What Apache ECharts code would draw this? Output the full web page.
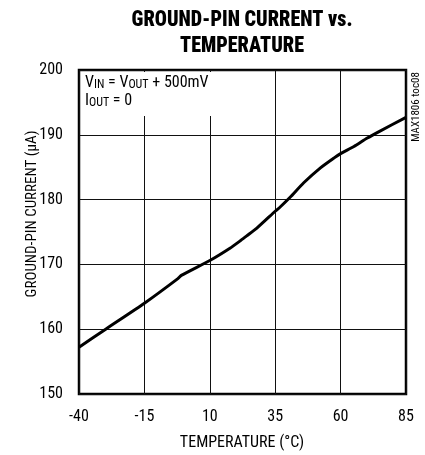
<!DOCTYPE html>
<html>
<head>
<meta charset="utf-8">
<script src="https://cdn.jsdelivr.net/npm/echarts@6/dist/echarts.min.js"></script>
<style>
html,body{margin:0;padding:0;background:#fff;}
#chart{width:425px;height:455px;}
</style>
</head>
<body>
<div id="chart"></div>
<script>
// Data
var temperatureC = [-40, -29.8, -15, -2.2, -0.9, 10, 17.7, 21.5, 24.1, 28, 35, 37.0, 40.8, 45.9, 52.3, 57.4, 60, 65.1, 70.2, 74.7, 85];
var groundCurrentUA = [157.2, 160.0, 164.0, 167.8, 168.3, 170.6, 172.5, 173.6, 174.4, 175.6, 178.2, 178.9, 180.4, 182.6, 184.9, 186.4, 187.1, 188.2, 189.5, 190.5, 192.7];
var xTicks = [-40, -15, 10, 35, 60, 85];
var yTicks = [150, 160, 170, 180, 190, 200];

var X_OFFSET = -xTicks[0]; // shift so axis min is a multiple of interval
var xStep = xTicks[1] - xTicks[0];
var FONT = '"Roboto Condensed", "DejaVu Sans Condensed", sans-serif';
var TITLE_FONT = '900 22px ' + FONT;

function fitScale(text, font, targetWidth) {
  var ctx = document.createElement('canvas').getContext('2d');
  ctx.font = font;
  var w = ctx.measureText(text).width;
  return w > 0 ? targetWidth / w : 1;
}
var title1 = 'GROUND-PIN CURRENT vs.';
var title2 = 'TEMPERATURE';
var tScale = fitScale(title1, TITLE_FONT, 221);

var seriesData = temperatureC.map(function (t, i) { return [t + X_OFFSET, groundCurrentUA[i]]; });

var chart = echarts.init(document.getElementById('chart'));
chart.setOption({
  animation: false,
  backgroundColor: '#fff',
  grid: {
    left: 79, right: 19, top: 70, bottom: 61,
    show: true, borderColor: '#000', borderWidth: 2.5, backgroundColor: 'transparent',
    outerBoundsMode: 'none'
  },
  xAxis: {
    type: 'value',
    min: xTicks[0] + X_OFFSET,
    max: xTicks[xTicks.length - 1] + X_OFFSET,
    interval: xStep,
    axisLine: { show: false },
    axisTick: { show: false },
    splitLine: { show: true, lineStyle: { color: '#111', width: 1 } },
    axisLabel: {
      color: '#000', fontSize: 16, fontFamily: FONT, margin: 15,
      formatter: function (v) { return String(v - X_OFFSET); }
    }
  },
  yAxis: {
    type: 'value',
    min: yTicks[0], max: yTicks[yTicks.length - 1], interval: yTicks[1] - yTicks[0],
    axisLine: { show: false },
    axisTick: { show: false },
    splitLine: { show: true, lineStyle: { color: '#111', width: 1 } },
    axisLabel: { color: '#000', fontSize: 16, fontFamily: FONT, margin: 16 }
  },
  series: [{
    type: 'line',
    data: seriesData,
    showSymbol: false,
    smooth: 0.2,
    lineStyle: { color: '#000', width: 3 },
    z: 5
  }],
  graphic: [
    { type: 'rect', shape: { x: 81, y: 72, width: 160, height: 44 }, style: { fill: '#fff' }, z: 3, silent: true },
    { type: 'text', x: 242, y: 20, scaleX: tScale, z: 10,
      style: { text: title1, font: TITLE_FONT, fill: '#000', textAlign: 'center', textVerticalAlign: 'middle' } },
    { type: 'text', x: 242, y: 46, scaleX: tScale, z: 10,
      style: { text: title2, font: TITLE_FONT, fill: '#000', textAlign: 'center', textVerticalAlign: 'middle' } },
    { type: 'text', x: 85, y: 73, z: 10,
      style: {
        text: '{m|V}{s|IN}{m| = V}{s|OUT}{m| + 500mV}\n{m|I}{s|OUT}{m| = 0}',
        fill: '#000', textAlign: 'left', textVerticalAlign: 'top',
        rich: {
          m: { fontSize: 16, fontFamily: FONT, lineHeight: 18, verticalAlign: 'bottom', fill: '#000' },
          s: { fontSize: 12, fontFamily: FONT, lineHeight: 13, verticalAlign: 'bottom', fill: '#000' }
        }
      } },
    { type: 'text', x: 416, y: 107, rotation: Math.PI / 2, z: 10,
      style: { text: 'MAX1806 toc08', font: '11px ' + FONT, fill: '#000', textAlign: 'center', textVerticalAlign: 'middle' } },
    { type: 'text', x: 242, y: 443, z: 10,
      style: { text: 'TEMPERATURE (°C)', font: '16px ' + FONT, fill: '#000', textAlign: 'center', textVerticalAlign: 'middle' } },
    { type: 'text', x: 32, y: 214, rotation: Math.PI / 2, z: 10,
      style: { text: 'GROUND-PIN CURRENT (µA)', font: '15px ' + FONT, fill: '#000', textAlign: 'center', textVerticalAlign: 'middle' } }
  ]
});
</script>
</body>
</html>
